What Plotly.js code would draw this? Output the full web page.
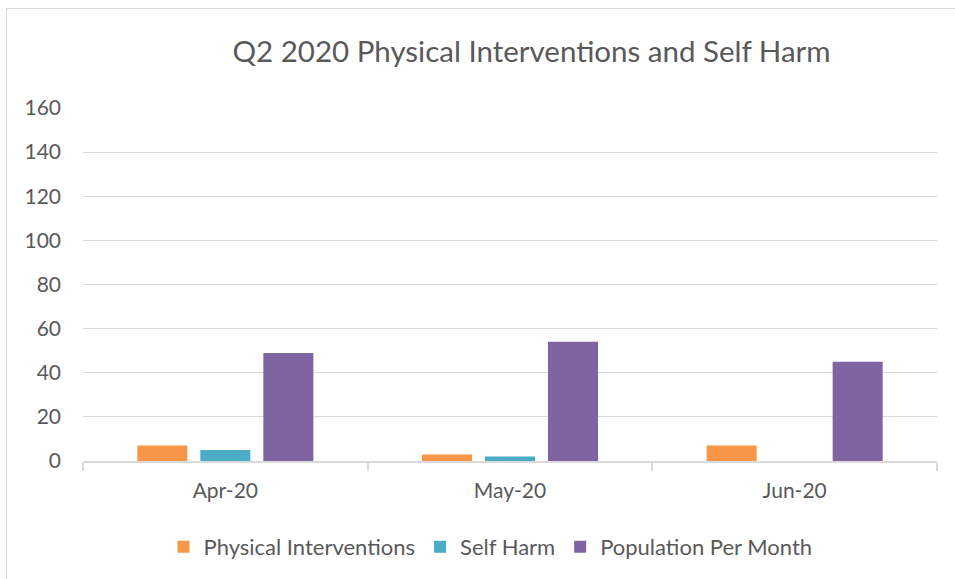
<!DOCTYPE html>
<html>
<head>
<meta charset="utf-8">
<script src="https://cdn.plot.ly/plotly-3.0.1.min.js"></script>
<style>
  html, body { margin: 0; padding: 0; background: #fff; }
  #frame { position: absolute; left: 6px; top: 8px; width: 960px; height: 580px;
           border-left: 1.5px solid #d9d9d9; border-top: 1.5px solid #d9d9d9; }
  #chart { position: absolute; left: 0; top: 0; width: 955px; height: 579px; }
</style>
</head>
<body>
<div id="frame"></div>
<div id="chart"></div>
<script>
const categories = ["Apr-20", "May-20", "Jun-20"];
const physicalInterventions = [7, 3, 7];
const selfHarm = [5, 2, 0];
const populationPerMonth = [49, 54, 45];
const yTicks = [0, 20, 40, 60, 80, 100, 120, 140, 160];

const FONT = "Lato, 'Open Sans', sans-serif";
const TXT = "#595959";

const traces = [
  { type: "bar", name: "Physical Interventions", x: categories, y: physicalInterventions,
    marker: { color: "#F79646" }, hoverinfo: "x+y+name" },
  { type: "bar", name: "Self Harm", x: categories, y: selfHarm,
    marker: { color: "#4BACC6" }, hoverinfo: "x+y+name" },
  { type: "bar", name: "Population Per Month", x: categories, y: populationPerMonth,
    marker: { color: "#8064A2" }, hoverinfo: "x+y+name" }
];

const layout = {
  width: 955, height: 579,
  paper_bgcolor: "rgba(0,0,0,0)", plot_bgcolor: "rgba(0,0,0,0)",
  margin: { l: 83, r: 18, t: 108, b: 117 },
  font: { family: FONT, color: TXT, size: 21 },
  title: { text: "Q2 2020 Physical Interventions and Self Harm",
           font: { family: FONT, size: 29.5, color: TXT },
           x: 531.5 / 955, xref: "container", xanchor: "center",
           y: 1 - 52 / 579, yref: "container", yanchor: "middle" },
  barmode: "group", bargap: 0.336, bargroupgap: 0.206,
  xaxis: { type: "category", showline: true, linecolor: "#d9d9d9", linewidth: 1.5,
           ticks: "outside", tickson: "boundaries", ticklen: 8, tickcolor: "#d9d9d9", tickwidth: 1.5,
           showgrid: false, ticklabelstandoff: 10, tickfont: { size: 21, color: TXT } },
  yaxis: { range: [0, 160], tickvals: yTicks, ticktext: yTicks.map(String),
           showgrid: true, gridcolor: "#d9d9d9", gridwidth: 1, zeroline: false,
           showline: false, ticks: "", ticklabelstandoff: 21, tickfont: { size: 21, color: TXT } },
  showlegend: true,
  legend: { orientation: "h", x: (490.5 - 83) / 854, xanchor: "center",
            y: (462 - 547) / 354, yanchor: "middle", font: { size: 22, color: TXT } }
};

Plotly.newPlot("chart", traces, layout, { displayModeBar: false });
</script>
</body>
</html>
